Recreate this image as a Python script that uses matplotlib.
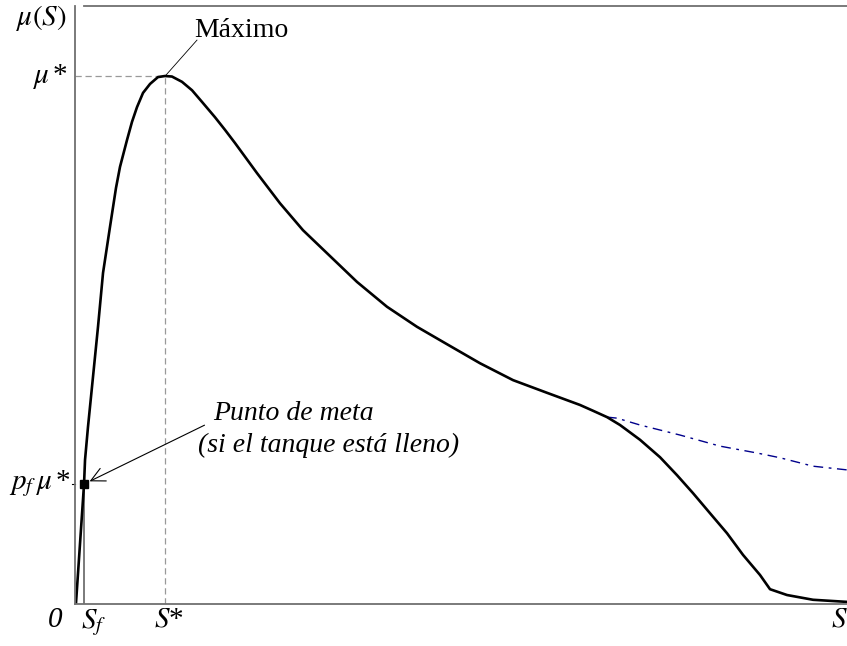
import matplotlib.pyplot as plt

plt.rcParams['font.family'] = ['Liberation Serif', 'DejaVu Serif']
plt.rcParams['mathtext.fontset'] = 'stix'

# curva de crecimiento mu(S): S en % del rango, mu en % de mu*
S = [0.13, 1.17, 1.30, 1.68, 2.33, 2.98, 3.63, 4.53, 5.31, 5.83, 6.74, 7.38,
     8.03, 8.81, 9.72, 10.75, 11.66, 12.56, 13.86, 15.16, 16.45, 18.13,
     19.43, 20.73, 23.58, 26.55, 29.53, 33.03, 36.53, 40.41, 44.30, 48.19,
     52.46, 56.74, 61.14, 65.41, 67.10, 68.91, 70.60, 73.19, 75.78, 77.98,
     80.05, 82.25, 84.46, 86.53, 88.73, 90.03, 92.23, 95.60, 100.0]
mu = [0.19, 22.7, 27.3, 33.5, 43.0, 52.5, 62.7, 71.4, 78.8, 82.8, 87.9, 91.3,
      94.1, 96.8, 98.5, 99.8, 100.0, 99.9, 98.9, 97.3, 95.1, 92.2,
      89.8, 87.3, 81.6, 75.9, 70.8, 65.9, 61.0, 56.3, 52.5, 49.2,
      45.6, 42.4, 40.0, 37.7, 36.6, 35.4, 33.9, 31.1, 27.8, 24.4,
      21.0, 17.2, 13.4, 9.3, 5.5, 2.8, 1.7, 0.8, 0.4]

# continuación sin inhibición (discontinua)
S_alt = [68.91, 70.21, 73.19, 78.37, 83.55, 88.34, 91.32, 95.60, 100.0]
mu_alt = [35.4, 35.2, 33.9, 32.0, 29.9, 28.6, 27.7, 26.1, 25.4]

S_star = 11.66
mu_star = 100.0
S_f = 1.17
pf_mu = 22.7

fig = plt.figure(figsize=(8.47, 6.46), dpi=100)
ax = fig.add_axes([75 / 847, 42 / 646, 772 / 847, 598 / 646])
ax.set_xlim(0, 100)
ax.set_ylim(0, 113.26)
ax.set_xticks([])
ax.set_yticks([])

ax.spines['right'].set_visible(False)
for side in ['left', 'bottom', 'top']:
    ax.spines[side].set_color('#707070')
    ax.spines[side].set_linewidth(1.3)
ax.spines['top'].set_bounds(S_f, 100)

# guías punteadas del máximo
ax.plot([0, S_star], [mu_star, mu_star], color='#999999', lw=0.9, ls=(0, (5, 3)))
ax.plot([S_star, S_star], [0, mu_star], color='#999999', lw=0.9, ls=(0, (5, 3)))
ax.plot([S_f, S_f], [0, pf_mu], color='#707070', lw=1.3)

ax.plot(S_alt, mu_alt, color='#00008B', lw=1.0, ls=(0, (7, 4, 2, 4)))
ax.plot(S, mu, color='black', lw=1.9, solid_joinstyle='round')
ax.plot([S_f], [pf_mu], marker='s', ms=6, color='black', clip_on=False)

# anotaciones
ax.plot([11.8, 15.8], [100.2, 106.8], color='black', lw=0.6)
ax.text(21.6, 107.4, 'Máximo', fontsize=20, ha='center', va='baseline')

ax.annotate('', xy=(S_f + 0.4, pf_mu + 0.3), xytext=(17.1, 34.1),
            arrowprops=dict(arrowstyle='->', color='black', lw=0.8,
                            mutation_scale=25))
ax.text(17.9, 34.8, 'Punto de meta', fontsize=20, style='italic', va='baseline')
ax.text(15.9, 28.8, '(si el tanque está lleno)', fontsize=20, style='italic',
        va='baseline')

# etiquetas de los ejes
ax.text(-4.3, 111, r'$\mu(S)$', fontsize=21, ha='center', va='center')
ax.text(-0.9, 100, r'$\mu\,$*', fontsize=21, ha='right', va='center')
ax.text(-0.6, pf_mu, r'$p_f\,\mu\,$*', fontsize=21, ha='right', va='center')
ax.plot([-0.4, 0], [pf_mu, pf_mu], color='black', lw=0.8, clip_on=False)
ax.text(-2.6, -3, '0', fontsize=21, style='italic', ha='center', va='center')
ax.text(S_f + 1.2, -3.5, r'$S_f$', fontsize=21, ha='center', va='center')
ax.text(S_star + 0.5, -3, r'$S$*', fontsize=21, ha='center', va='center')
ax.text(99, -3, r'$S$', fontsize=21, ha='center', va='center')

fig.savefig('out.png', dpi=100)
